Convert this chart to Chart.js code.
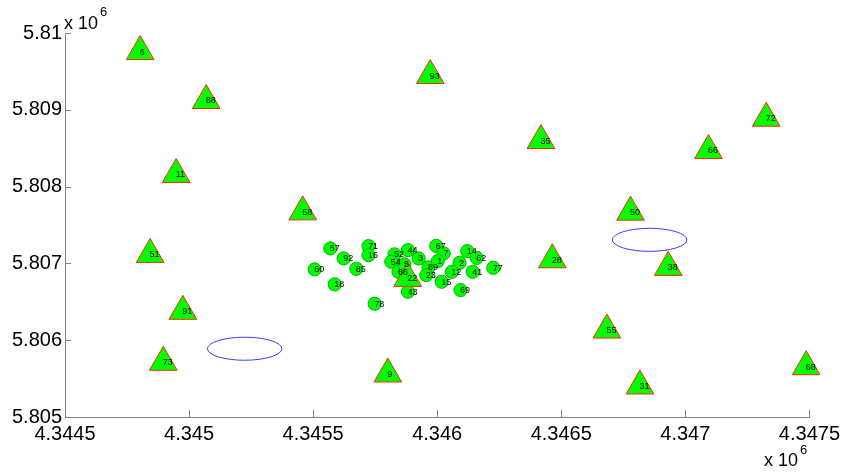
<!DOCTYPE html>
<html>
<head>
<meta charset="utf-8">
<script src="https://cdn.jsdelivr.net/npm/chart.js@4/dist/chart.umd.min.js"></script>
<style>
html,body{margin:0;padding:0;background:#fff;}
#wrap{width:845px;height:473px;position:relative;}
</style>
</head>
<body>
<div id="wrap"><canvas id="c" width="845" height="473"></canvas></div>
<script>
// Triangle sites (labels, x, y)
const triLabels = ['6','88','11','58','51','91','73','9','93','35','72','66','50','28','38','55','31','68','22'];
const triX = [4344803,4345069,4344948,4345458,4344843,4344975,4344896,4345801,4345972,4346418,4347326,4347093,4346779,4346464,4346931,4346684,4346817,4347487,4345881];
const triY = [5809758,5809121,5808158,5807671,5807117,5806376,5805712,5805560,5809446,5808600,5808890,5808470,5807667,5807047,5806948,5806132,5805404,5805655,5806805];

// Circle nodes (labels, x, y)
const circLabels = ['57','92','60','85','18','71','16','78','52','54','66','44','5','43','3','89','23','67','7','1','15','14','2','62','12','41','69','77'];
const circX = [4345569,4345623,4345506,4345674,4345587,4345723,4345723,4345748,4345828,4345815,4345844,4345882,4345868,4345882,4345925,4345965,4345956,4345996,4346026,4346002,4346018,4346121,4346090,4346159,4346059,4346143,4346094,4346226];
const circY = [5807195,5807065,5806922,5806930,5806727,5807225,5807108,5806475,5807117,5807021,5806891,5807173,5806987,5806631,5807065,5806948,5806848,5807229,5807130,5807030,5806761,5807160,5807008,5807073,5806891,5806891,5806653,5806943];

// Ellipses (centre x, centre y, radius in data units)
const ellX = [4345224,4346856];
const ellY = [5805889,5807307];
const ellR = [150,150];

// Axis ticks
const xTicks = [4344500,4345000,4345500,4346000,4346500,4347000,4347500];
const yTicks = [5805000,5806000,5807000,5808000,5809000,5810000];

const FONT = "'Liberation Sans', Arial, Helvetica, sans-serif";
const AXIS_COLOR = '#808080';

const toPts = (xs, ys) => xs.map((x, i) => ({x: x, y: ys[i]}));

const ellipsePlugin = {
  id: 'ellipses',
  beforeDatasetsDraw(chart) {
    const ctx = chart.ctx, xs = chart.scales.x, ys = chart.scales.y;
    ctx.save();
    ctx.strokeStyle = '#3a3aff';
    ctx.lineWidth = 1;
    for (let i = 0; i < ellX.length; i++) {
      const cx = xs.getPixelForValue(ellX[i]);
      const cy = ys.getPixelForValue(ellY[i]);
      const rx = Math.abs(xs.getPixelForValue(ellX[i] + ellR[i]) - cx);
      const ry = Math.abs(ys.getPixelForValue(ellY[i] + ellR[i]) - cy);
      ctx.beginPath();
      ctx.ellipse(cx, cy, rx, ry, 0, 0, Math.PI * 2);
      ctx.stroke();
    }
    ctx.restore();
  }
};

const labelPlugin = {
  id: 'pointLabels',
  afterDatasetsDraw(chart) {
    const ctx = chart.ctx;
    ctx.save();
    ctx.font = '9px ' + FONT;
    ctx.fillStyle = '#000';
    ctx.textAlign = 'left';
    ctx.textBaseline = 'middle';
    chart.data.datasets.forEach((ds, di) => {
      const meta = chart.getDatasetMeta(di);
      meta.data.forEach((el, i) => {
        ctx.fillText(ds.labels[i], el.x - 0.5, el.y + 0.5);
      });
    });
    ctx.restore();
  }
};

const axisPlugin = {
  id: 'axisDecor',
  afterDraw(chart) {
    const ctx = chart.ctx, xs = chart.scales.x, ys = chart.scales.y;
    const a = chart.chartArea;
    ctx.save();
    ctx.strokeStyle = AXIS_COLOR;
    ctx.lineWidth = 1;
    ctx.beginPath();
    xTicks.forEach(v => {
      const px = Math.round(xs.getPixelForValue(v)) + 0.5;
      ctx.moveTo(px, a.bottom);
      ctx.lineTo(px, a.bottom - 7);
    });
    yTicks.forEach(v => {
      const py = Math.round(ys.getPixelForValue(v)) + 0.5;
      ctx.moveTo(a.left, py);
      ctx.lineTo(a.left + 6, py);
    });
    ctx.stroke();
    // exponent labels
    ctx.fillStyle = '#000';
    ctx.textAlign = 'left';
    ctx.textBaseline = 'alphabetic';
    ctx.font = '18px ' + FONT;
    ctx.fillText('x 10', 64, 29);
    ctx.fillText('x 10', 764, 466);
    ctx.font = '13px ' + FONT;
    ctx.fillText('6', 100, 16);
    ctx.fillText('6', 800, 454);
    ctx.restore();
  }
};

const fmt = v => String(parseFloat((v / 1e6).toFixed(4)));

new Chart(document.getElementById('c'), {
  type: 'scatter',
  data: {
    datasets: [
      {
        labels: triLabels,
        data: toPts(triX, triY),
        pointStyle: 'triangle',
        pointRadius: 16,
        backgroundColor: '#00ff00',
        borderColor: '#ff2a00',
        borderWidth: 1,
        clip: false
      },
      {
        labels: circLabels,
        data: toPts(circX, circY),
        pointStyle: 'circle',
        pointRadius: 6.6,
        backgroundColor: '#00ff00',
        borderColor: '#00b400',
        borderWidth: 1,
        clip: false
      }
    ]
  },
  options: {
    responsive: false,
    animation: false,
    events: [],
    layout: { padding: { top: 33, right: 34.5, left: 0, bottom: 0 } },
    plugins: { legend: { display: false }, tooltip: { enabled: false } },
    scales: {
      x: {
        type: 'linear',
        min: xTicks[0],
        max: xTicks[xTicks.length - 1],
        afterBuildTicks: s => { s.ticks = xTicks.map(v => ({value: v})); },
        afterFit: s => { s.height = 56; },
        grid: { display: true, drawOnChartArea: false, drawTicks: false },
        border: { display: true, color: AXIS_COLOR, width: 1 },
        ticks: {
          padding: 5,
          maxRotation: 0,
          autoSkip: false,
          color: '#000',
          font: { family: FONT, size: 20 },
          callback: v => fmt(v)
        }
      },
      y: {
        type: 'linear',
        min: yTicks[0],
        max: yTicks[yTicks.length - 1],
        afterBuildTicks: s => { s.ticks = yTicks.map(v => ({value: v})); },
        afterFit: s => { s.width = 65; },
        grid: { display: true, drawOnChartArea: false, drawTicks: false },
        border: { display: true, color: AXIS_COLOR, width: 1 },
        ticks: {
          padding: 3,
          autoSkip: false,
          color: '#000',
          font: { family: FONT, size: 20 },
          callback: v => fmt(v)
        }
      }
    }
  },
  plugins: [ellipsePlugin, labelPlugin, axisPlugin]
});
</script>
</body>
</html>
